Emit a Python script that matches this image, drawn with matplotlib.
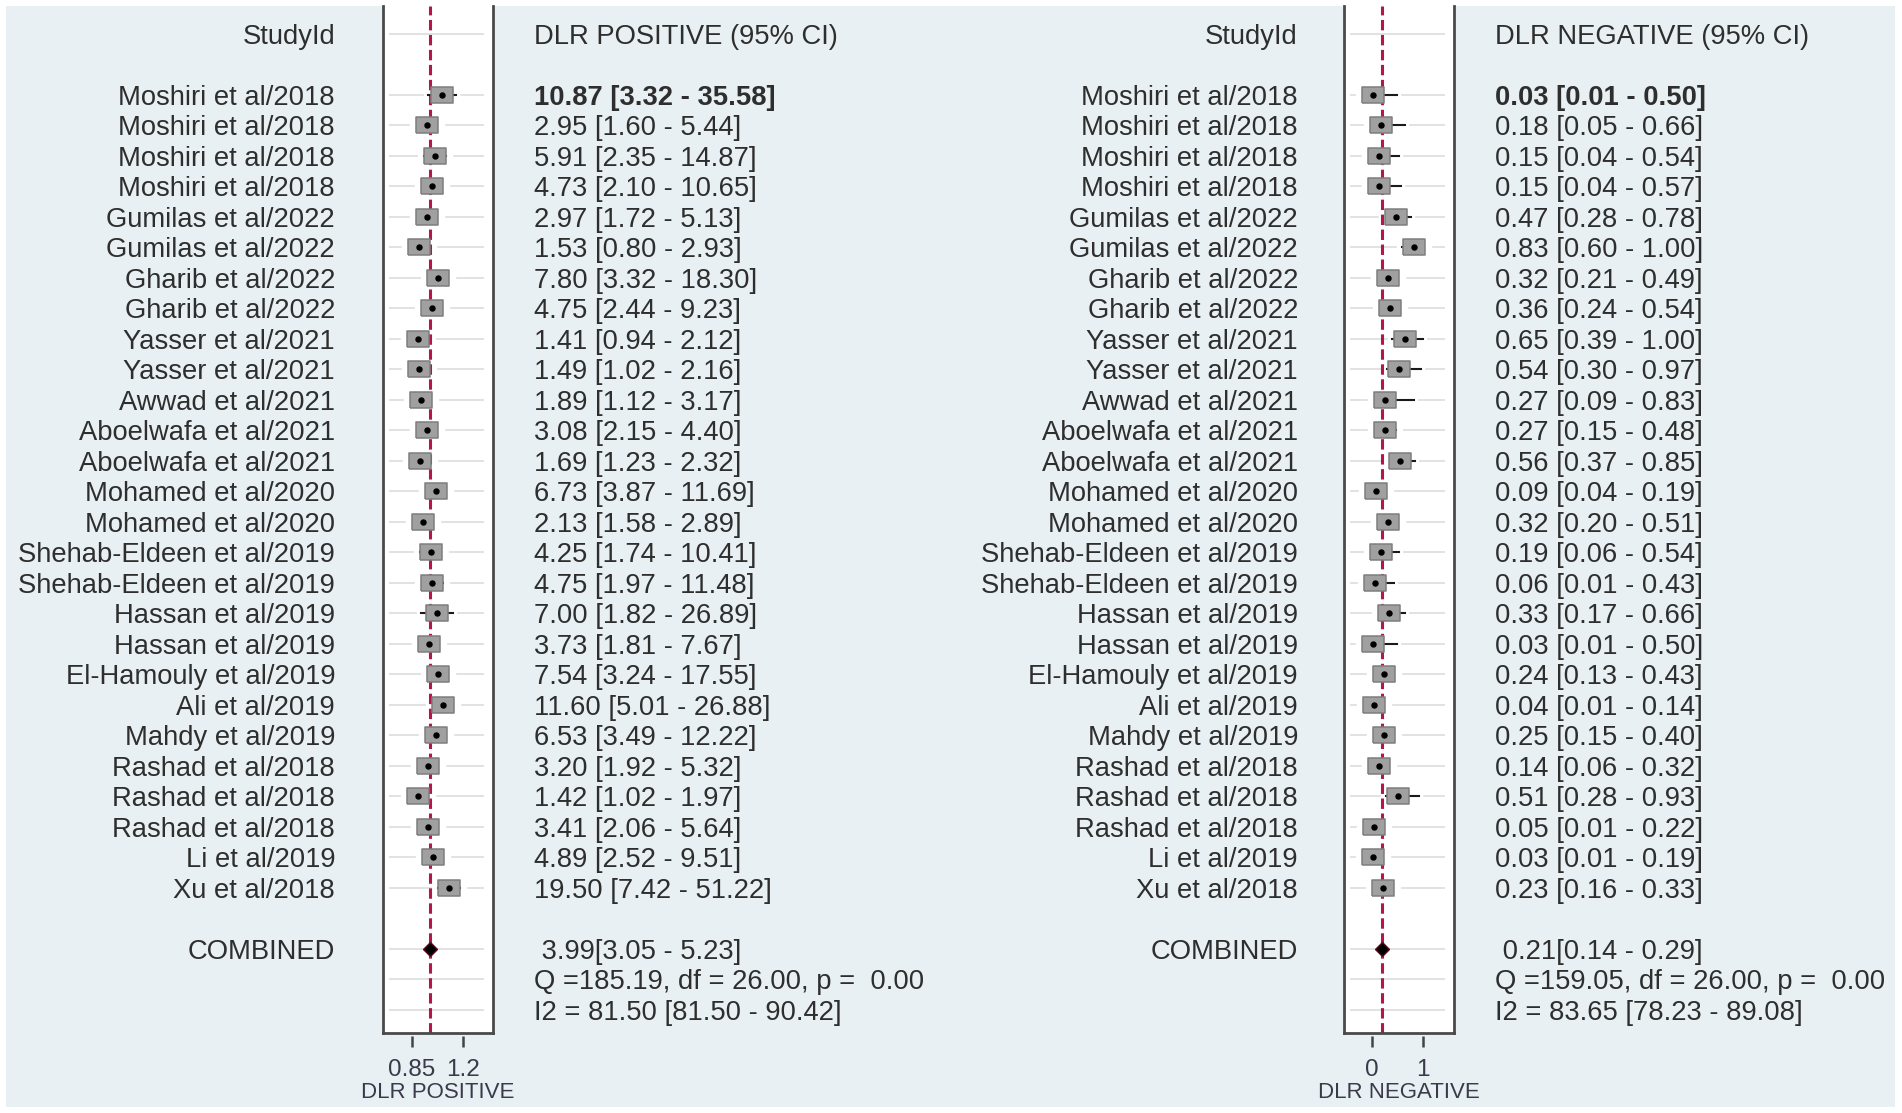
import matplotlib

matplotlib.use("Agg")
import matplotlib.pyplot as plt
import matplotlib.transforms as mtransforms
from matplotlib.patches import Rectangle
from matplotlib.ticker import NullLocator

plt.rcParams["font.family"] = ["Liberation Sans", "DejaVu Sans"]

# --- data -----------------------------------------------------------------
studies = [
    "Moshiri et al/2018", "Moshiri et al/2018", "Moshiri et al/2018",
    "Moshiri et al/2018", "Gumilas et al/2022", "Gumilas et al/2022",
    "Gharib et al/2022", "Gharib et al/2022", "Yasser et al/2021",
    "Yasser et al/2021", "Awwad et al/2021", "Aboelwafa et al/2021",
    "Aboelwafa et al/2021", "Mohamed et al/2020", "Mohamed et al/2020",
    "Shehab-Eldeen et al/2019", "Shehab-Eldeen et al/2019",
    "Hassan et al/2019", "Hassan et al/2019", "El-Hamouly et al/2019",
    "Ali et al/2019", "Mahdy et al/2019", "Rashad et al/2018",
    "Rashad et al/2018", "Rashad et al/2018", "Li et al/2019", "Xu et al/2018",
]

pos_est = [10.87, 2.95, 5.91, 4.73, 2.97, 1.53, 7.80, 4.75, 1.41, 1.49, 1.89,
           3.08, 1.69, 6.73, 2.13, 4.25, 4.75, 7.00, 3.73, 7.54, 11.60, 6.53,
           3.20, 1.42, 3.41, 4.89, 19.50]
pos_lo = [3.32, 1.60, 2.35, 2.10, 1.72, 0.80, 3.32, 2.44, 0.94, 1.02, 1.12,
          2.15, 1.23, 3.87, 1.58, 1.74, 1.97, 1.82, 1.81, 3.24, 5.01, 3.49,
          1.92, 1.02, 2.06, 2.52, 7.42]
pos_hi = [35.58, 5.44, 14.87, 10.65, 5.13, 2.93, 18.30, 9.23, 2.12, 2.16, 3.17,
          4.40, 2.32, 11.69, 2.89, 10.41, 11.48, 26.89, 7.67, 17.55, 26.88,
          12.22, 5.32, 1.97, 5.64, 9.51, 51.22]

neg_est = [0.03, 0.18, 0.15, 0.15, 0.47, 0.83, 0.32, 0.36, 0.65, 0.54, 0.27,
           0.27, 0.56, 0.09, 0.32, 0.19, 0.06, 0.33, 0.03, 0.24, 0.04, 0.25,
           0.14, 0.51, 0.05, 0.03, 0.23]
neg_lo = [0.01, 0.05, 0.04, 0.04, 0.28, 0.60, 0.21, 0.24, 0.39, 0.30, 0.09,
          0.15, 0.37, 0.04, 0.20, 0.06, 0.01, 0.17, 0.01, 0.13, 0.01, 0.15,
          0.06, 0.28, 0.01, 0.01, 0.16]
neg_hi = [0.50, 0.66, 0.54, 0.57, 0.78, 1.00, 0.49, 0.54, 1.00, 0.97, 0.83,
          0.48, 0.85, 0.19, 0.51, 0.54, 0.43, 0.66, 0.50, 0.43, 0.14, 0.40,
          0.32, 0.93, 0.22, 0.19, 0.33]

pos_combined = [3.99, 3.05, 5.23]
neg_combined = [0.21, 0.14, 0.29]
pos_stats = ["Q =185.19, df = 26.00, p =  0.00", "I2 = 81.50 [81.50 - 90.42]"]
neg_stats = ["Q =159.05, df = 26.00, p =  0.00", "I2 = 83.65 [78.23 - 89.08]"]

pos_ticks = [0.85, 65]
pos_tick_labels = ["0.85", "1.2"]
neg_ticks = [0, 1]
neg_tick_labels = ["0", "1"]

# --- layout (pixels of a 1902x1113 canvas) ---------------------------------
W, H = 1902, 1113
BOX_TOP, BOX_BOTTOM = 6, 1033
TEXT_COLOR = "#2e2e2e"
FS = 19.7
DY = 0.11  # text sits a touch below the row centre
RED = "#b3164a"
BOX_VERTS = [(-11, -8.5), (11, -8.5), (11, 8.5), (-11, 8.5), (-11, -8.5)]

fig = plt.figure(figsize=(W / 100, H / 100), dpi=100, facecolor="white")
fig.add_artist(Rectangle((6 / W, (H - 1107) / H), (1895 - 6) / W, (1107 - 6) / H,
                         transform=fig.transFigure, facecolor="#e8f0f3",
                         edgecolor="none", zorder=0))


def draw_panel(box_left, name_x, value_x, est, lo, hi, combined, stats,
               ticks, tick_labels, xlabel, header, xlim, log):
    ax = fig.add_axes([box_left / W, (H - BOX_BOTTOM) / H, 110 / W,
                       (BOX_BOTTOM - BOX_TOP) / H])
    ax.set_facecolor("white")
    if log:
        ax.set_xscale("log")
    ax.set_xlim(*xlim)
    ax.set_ylim(30.77, -2.905)
    rows = list(range(len(est)))
    comb_row = len(est) + 1

    # faint row lines
    for r in [-2] + rows + [comb_row, comb_row + 1, comb_row + 2]:
        ax.axhline(r, xmin=0.06, xmax=0.91, color="#e2e2e2", lw=1.4, zorder=1)

    # white halos that break the row lines around each study
    for r, e, l, h in zip(rows, est, lo, hi):
        ax.plot([l, h], [r, r], color="white", lw=6, solid_capstyle="projecting",
                zorder=2)
        ax.plot(e, r, marker=BOX_VERTS, ms=24, color="white", ls="none", zorder=2)

    ax.axvline(combined[0], color=RED, lw=2.2, dashes=(3.4, 1.5), zorder=3)

    for r, e, l, h in zip(rows, est, lo, hi):
        ax.plot([l, h], [r, r], color="#1a1a1a", lw=1.5, zorder=4)
    ax.plot(est, rows, marker=BOX_VERTS, ms=15.8, ls="none", mfc="#a0a0a0",
            mec="#7e7e7e", mew=1.1, zorder=5)
    ax.plot(est, rows, "o", ms=3.6, color="black", zorder=6)
    ax.plot(combined[0], comb_row, marker="D", ms=7.5, color="black",
            mec="#5a0a20", zorder=6)

    # frame: sides + bottom border, axis offset below it
    for side in ["left", "right"]:
        ax.spines[side].set_color("#4a4a4a")
        ax.spines[side].set_linewidth(2)
    ax.spines["top"].set_visible(False)
    ax.spines["bottom"].set_color("none")
    ax.spines["bottom"].set_position(("outward", 2.2))
    ax.plot([0, 1], [0, 0], transform=ax.transAxes, color="#4a4a4a", lw=2,
            clip_on=False, solid_capstyle="projecting", zorder=7)
    ax.set_yticks([])
    ax.set_xticks(ticks)
    ax.set_xticklabels(tick_labels)
    ax.xaxis.set_minor_locator(NullLocator())
    ax.tick_params(axis="x", direction="out", length=8, width=1.8,
                   color="#444444", labelsize=17.5, pad=8.5, labelcolor="#3a3a4a")
    fig.text((box_left + 55) / W, (H - 1092) / H, xlabel, fontsize=16.0,
             ha="center", va="center", color="#3a3a4a")

    # text columns
    tr = mtransforms.blended_transform_factory(fig.transFigure, ax.transData)
    kw = dict(transform=tr, va="center", fontsize=FS, color=TEXT_COLOR)
    ax.text(name_x / W, -2 + DY, "StudyId", ha="right", **kw)
    ax.text(value_x / W, -2 + DY, header, ha="left", **kw)
    for r, name, e, l, h in zip(rows, studies, est, lo, hi):
        ax.text(name_x / W, r + DY, name, ha="right", **kw)
        ax.text(value_x / W, r + DY, f"{e:.2f} [{l:.2f} - {h:.2f}]", ha="left",
                fontweight="bold" if r == 0 else "normal", **kw)
    ax.text(name_x / W, comb_row + DY, "COMBINED", ha="right", **kw)
    ax.text(value_x / W, comb_row + DY,
            f" {combined[0]:.2f}[{combined[1]:.2f} - {combined[2]:.2f}]",
            ha="left", **kw)
    for k, s in enumerate(stats):
        ax.text(value_x / W, comb_row + 1 + k + DY, s, ha="left", **kw)
    return ax


draw_panel(383, 335, 534, pos_est, pos_lo, pos_hi, pos_combined, pos_stats,
           pos_ticks, pos_tick_labels, "DLR POSITIVE", "DLR POSITIVE (95% CI)",
           (0.0717, 834), True)
draw_panel(1344, 1298, 1495, neg_est, neg_lo, neg_hi, neg_combined, neg_stats,
           neg_ticks, neg_tick_labels, "DLR NEGATIVE", "DLR NEGATIVE (95% CI)",
           (-0.543, 1.614), False)

fig.savefig("out.png", dpi=100, facecolor="white")
